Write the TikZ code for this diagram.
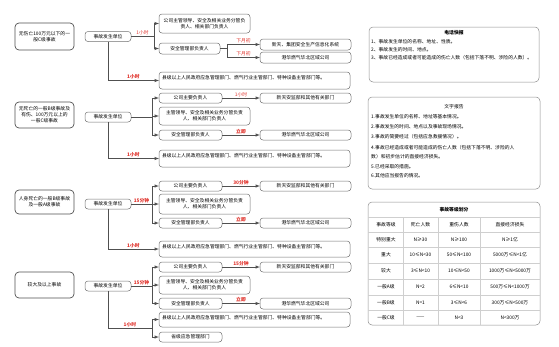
\documentclass[tikz,border=0pt]{standalone}
\usepackage{fontspec}
\setmainfont{Noto Sans CJK SC}
\usetikzlibrary{arrows}
\definecolor{LineGray}{HTML}{505050}
\definecolor{BoxGray}{HTML}{707070}
\definecolor{TagRed}{HTML}{E0322B}
\definecolor{GridGray}{HTML}{CFCFCF}

\begin{document}
\begin{tikzpicture}[x=1pt, y=-1pt, >=latex, font=\fontsize{4.8}{6}\selectfont]
\tikzset{
  BoxStyle/.style = {draw=BoxGray, rounded corners=3pt, line width=0.5pt, align=center,
    inner sep=1pt, outer sep=0pt, anchor=north west},
  CaseStyle/.style = {BoxStyle, draw=LineGray, line width=0.7pt, rounded corners=4pt, minimum width=59pt},
  UnitStyle/.style = {BoxStyle, minimum width=46pt, minimum height=10pt},
  ShortStyle/.style = {BoxStyle, minimum width=63pt, minimum height=10pt},
  LongStyle/.style = {BoxStyle, minimum width=91pt, minimum height=10pt},
  WideStyle/.style = {BoxStyle, align=left, inner xsep=3pt, inner ysep=3pt, text width=185pt,
    text height=4.5pt, text depth=#1},
  PanelStyle/.style = {BoxStyle, draw=BoxGray!80, rounded corners=4pt},
  EdgeStyle/.style = {draw=LineGray, line width=0.5pt},
  TagStyle/.style = {text=TagRed, anchor=south, inner sep=1pt, font=\fontsize{4.8}{6}\selectfont\bfseries},
  ThinTag/.style = {TagStyle, font=\fontsize{4.8}{6}\selectfont},
  LineStyle/.style = {anchor=west, inner sep=0pt}
}
\useasboundingbox (0,0) rectangle (559,346);

\node[CaseStyle, minimum height=27pt] (L1) at (15,23) {无伤亡100万元以下的一\\般C级事故};
\node[UnitStyle] (U1) at (85,31.5) {事故发生单位};
\node[LongStyle, minimum height=19pt] (A1) at (159,14) {公司主管领导、安全及相关业务分管负\\责人、相关部门负责人};
\node[ShortStyle, minimum width=61pt, minimum height=11pt] (B1) at (159,43) {安全管理部负责人};
\node[LongStyle, minimum height=11pt] (X1) at (260,39) {新天、集团安全生产信息化系统};
\node[LongStyle, minimum height=11pt] (Y1) at (260,52) {港华燃气华北区域公司};
\node[WideStyle=6.5pt] (G1) at (159,72) {县级以上人民政府应急管理部门、燃气行业主管部门、特种设备主管部门等。};

\draw[EdgeStyle, ->] (U1.east) -- ++(23,0) node[ThinTag, midway] {1小时} |- (A1.west);
\draw[EdgeStyle, ->] (U1.east) -- ++(23,0) |- (B1.west);
\draw[EdgeStyle, ->] (B1.east) -- ++(7,0) |- (X1.west) node[ThinTag, pos=0.75] {下月初};
\draw[EdgeStyle, ->] (B1.east) -- ++(7,0) |- (Y1.west) node[ThinTag, pos=0.75] {下月初};
\draw[EdgeStyle, ->] (U1.south) |- (G1.west) node[TagStyle, pos=0.75] {1小时};

\node[CaseStyle, minimum height=26pt] (L2) at (15,102) {无死亡的一般B级事故及\\有伤、100万元以上的\\一般C级事故};
\node[UnitStyle] (U2) at (85,112) {事故发生单位};
\node[ShortStyle] (A2) at (159,93) {公司主要负责人};
\node[LongStyle, minimum height=18pt] (M2) at (159,107) {主管领导、安全及相关业务分管负责\\人、相关部门负责人};
\node[ShortStyle] (B2) at (159,130) {安全管理部负责人};
\node[LongStyle] (X2) at (260,93) {新天安监部和其他有关部门};
\node[LongStyle] (Y2) at (260,130) {港华燃气华北区域公司};
\node[WideStyle=6.5pt] (G2) at (159,150) {县级以上人民政府应急管理部门、燃气行业主管部门、特种设备主管部门等。};

\draw[EdgeStyle, ->] (U2.east) -- ++(21,0) |- (A2.west);
\draw[EdgeStyle, ->] (U2.east) -- ++(21,0) |- (M2.west);
\draw[EdgeStyle, ->] (U2.east) -- ++(21,0) |- (B2.west);
\draw[EdgeStyle, ->] (A2) -- (X2) node[ThinTag, midway] {1小时};
\draw[EdgeStyle, ->] (B2) -- (Y2) node[TagStyle, midway] {立即};
\draw[EdgeStyle, ->] (U2.south) |- (G2.west) node[TagStyle, pos=0.75] {1小时};

\node[CaseStyle, minimum height=24pt] (L3) at (15,190) {人身死亡的一般B级事故\\及一般A级事故};
\node[UnitStyle] (U3) at (85,199) {事故发生单位};
\node[ShortStyle] (A3) at (159,181) {公司主要负责人};
\node[LongStyle, minimum height=20pt] (M3) at (159,194) {主管领导、安全及相关业务分管负责\\人、相关部门负责人};
\node[ShortStyle] (B3) at (159,218) {安全管理部负责人};
\node[LongStyle] (X3) at (260,181) {新天安监部和其他有关部门};
\node[LongStyle] (Y3) at (260,218) {港华燃气华北区域公司};
\node[WideStyle=5.5pt] (G3) at (159,241) {县级以上人民政府应急管理部门、燃气行业主管部门、特种设备主管部门等。};

\draw[EdgeStyle, ->] (U3.east) -- ++(21,0) node[TagStyle, midway] {15分钟} |- (A3.west);
\draw[EdgeStyle, ->] (U3.east) -- ++(21,0) |- (M3.west);
\draw[EdgeStyle, ->] (U3.east) -- ++(21,0) |- (B3.west);
\draw[EdgeStyle, ->] (A3) -- (X3) node[TagStyle, midway] {30分钟};
\draw[EdgeStyle, ->] (B3) -- (Y3) node[TagStyle, midway] {立即};
\draw[EdgeStyle, ->] (U3.south) |- (G3.west) node[TagStyle, pos=0.75] {1小时};

\node[CaseStyle, minimum height=26pt] (L4) at (15,272) {较大及以上事故};
\node[UnitStyle] (U4) at (85,281) {事故发生单位};
\node[ShortStyle] (A4) at (159,262) {公司主要负责人};
\node[LongStyle, minimum height=18pt] (M4) at (159,276) {主管领导、安全及相关业务分管负责\\人、相关部门负责人};
\node[ShortStyle, minimum height=11pt] (B4) at (159,298) {安全管理部负责人};
\node[LongStyle] (X4) at (260,262) {新天安监部和其他有关部门};
\node[LongStyle, minimum height=11pt] (Y4) at (260,298) {港华燃气华北区域公司};
\node[WideStyle=4.5pt] (G4) at (159,312) {县级以上人民政府应急管理部门、燃气行业主管部门、特种设备主管部门等。};
\node[ShortStyle] (S4) at (159,332) {省级应急管理部门};
\coordinate (J4) at (152,328);

\draw[EdgeStyle, ->] (U4.east) -- ++(21,0) node[TagStyle, midway] {15分钟} |- (A4.west);
\draw[EdgeStyle, ->] (U4.east) -- ++(21,0) |- (M4.west);
\draw[EdgeStyle, ->] (U4.east) -- ++(21,0) |- (B4.west);
\draw[EdgeStyle, ->] (A4) -- (X4) node[TagStyle, midway] {15分钟};
\draw[EdgeStyle, ->] (B4) -- (Y4) node[TagStyle, midway] {立即};
\draw[EdgeStyle] (U4.south) |- (J4) node[TagStyle, pos=0.75] {1小时};
\draw[EdgeStyle, ->] (J4) |- (G4.west);
\draw[EdgeStyle, ->] (J4) |- (S4.west);

\node[PanelStyle, minimum width=170pt, minimum height=55pt] (phone) at (369,27) {};
\node[font=\fontsize{4.8}{6}\selectfont\bfseries] (phoneT) at (454,32.5) {电话快报};
\node[LineStyle] (phone1) at (371,42) {1、事故发生单位的名称、地址、性质。};
\node[LineStyle] (phone2) at (371,50) {2、事故发生的时间、地点。};
\node[LineStyle] (phone3) at (371,58) {3、事故已经造成或者可能造成的伤亡人数（包括下落不明、涉险的人数）。};

\node[PanelStyle, minimum width=172pt, minimum height=92pt] (text) at (368,97) {};
\node (textT) at (454,107) {文字报告};
\node[LineStyle] (text1) at (371,117) {1.事故发生单位的名称、地址等基本情况。};
\node[LineStyle] (text2) at (371,127) {2.事故发生的时间、地点以及事故现场情况。};
\node[LineStyle] (text3) at (371,137) {3.事故的简要经过（包括应急救援情况）。};
\node[LineStyle] (text4) at (371,147.5) {4.事故已经造成或者可能造成的伤亡人数（包括下落不明、涉险的人};
\node[LineStyle] (text4b) at (371,157) {数）和初步估计的直接经济损失。};
\node[LineStyle] (text5) at (371,166.5) {5.已经采取的措施。};
\node[LineStyle] (text6) at (371,176) {6.其他应当报告的情况。};

\node[PanelStyle, minimum width=172pt, minimum height=123pt] (grade) at (368,202) {};
\node[font=\fontsize{4.8}{6}\selectfont\bfseries] (gradeT) at (454,209.5) {事故等级划分};
\foreach \y in {217,232,247,263,279,295,310}
  \draw[GridGray, line width=0.4pt] (368,\y) -- (540,\y);
\foreach \x in {403,438,480}
  \draw[GridGray, line width=0.4pt] (\x,217) -- (\x,325);
\foreach \r/\y/\a/\b/\c/\d in {0/224.5/事故等级/死亡人数/重伤人数/直接经济损失,
    1/239.5/特别重大/N≥30/N≥100/N≥1亿,
    2/255/重大/10≤N<30/50≤N<100/5000万≤N<1亿,
    3/271/较大/3≤N<10/10≤N<50/1000万≤N<5000万,
    4/287/一般A级/N=2/6≤N<10/500万≤N<1000万,
    5/302.5/一般B级/N=1/3≤N<6/300万≤N<500万,
    6/317.5/一般C级/——/N<3/N<300万} {
  \node (T\r a) at (386,\y) {\a};
  \node (T\r b) at (420.5,\y) {\b};
  \node (T\r c) at (459,\y) {\c};
  \node (T\r d) at (510,\y) {\d};
}
\end{tikzpicture}
\end{document}
